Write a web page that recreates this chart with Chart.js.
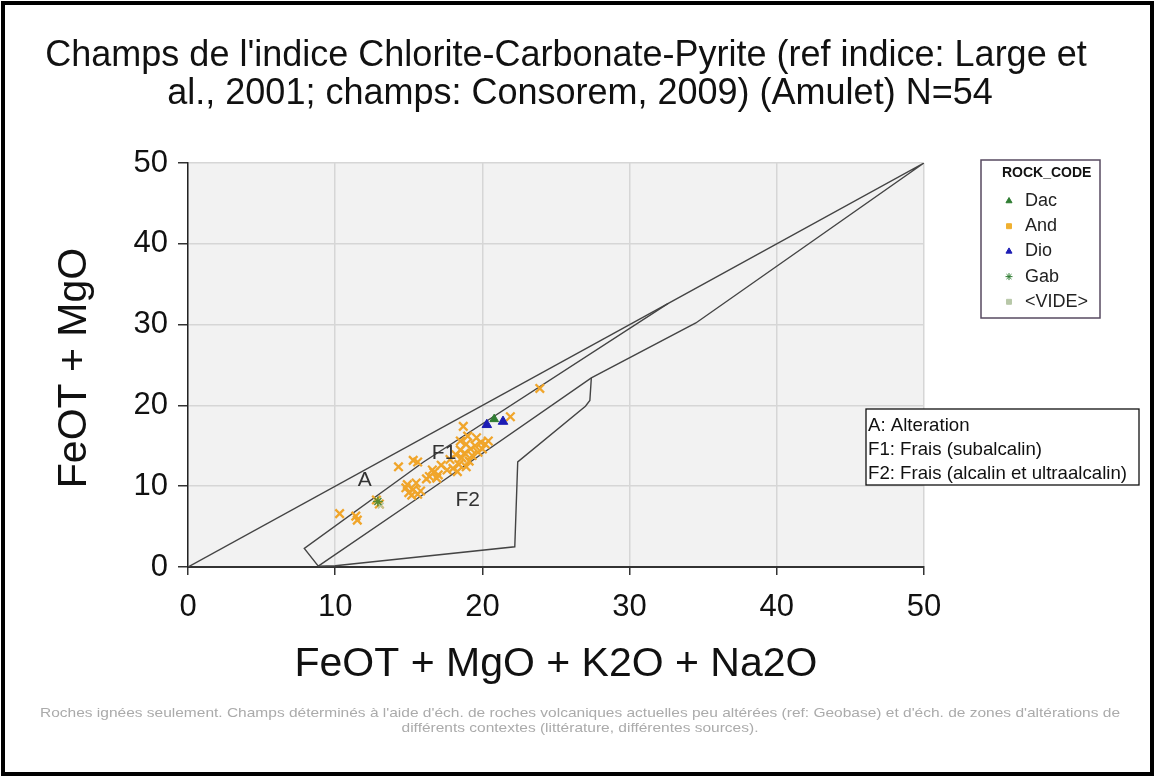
<!DOCTYPE html>
<html>
<head>
<meta charset="utf-8">
<script src="https://cdn.jsdelivr.net/npm/chart.js@4/dist/chart.umd.min.js"></script>
<style>
  html, body { margin: 0; padding: 0; background: #fff; }
  #wrap { position: relative; width: 1156px; height: 778px; }
</style>
</head>
<body>
<div id="wrap"><canvas id="graficoChamps"></canvas></div>
<script>
// Valeurs (FeOT+MgO+K2O+Na2O ; FeOT+MgO)
const andX = [10.3, 11.4, 11.5, 12.8, 13.0, 14.3, 15.3, 15.6,
              14.8, 15.0, 15.3, 15.5, 15.2, 15.8, 14.9, 15.6,
              16.4, 16.7, 16.9, 16.6, 17.2, 17.0, 16.2,
              18.7, 18.5, 18.9, 19.2, 18.8, 19.5, 18.6, 19.1, 18.4, 19.6, 19.9,
              18.2, 19.3, 18.9, 19.7, 18.5, 20.2, 20.4, 19.0, 18.0, 17.6,
              21.9, 23.9, 20.0, 17.8, 18.3];
const andY = [6.6, 6.3, 5.8, 8.3, 7.8, 12.4, 13.2, 13.0,
              9.8, 9.2, 9.6, 10.4, 8.9, 9.4, 10.2, 9.0,
              11.2, 11.7, 11.0, 12.0, 12.6, 11.4, 10.9,
              17.4, 15.6, 15.2, 14.6, 14.1, 15.0, 13.5, 13.1, 12.7, 16.0, 15.4,
              13.9, 13.8, 12.4, 14.2, 14.5, 15.2, 15.6, 16.2, 12.2, 12.0,
              18.6, 22.1, 14.6, 13.3, 11.8];
const dacX = [20.8];
const dacY = [18.3];
const dioX = [20.3, 21.4];
const dioY = [17.6, 18.0];
const gabX = [12.9];
const gabY = [8.1];
const videX = [13.1];
const videY = [7.6];

// Limites des champs (Consorem, 2009)
const champAX = [0, 32.6];
const champAY = [0, 32.6];
const champF1X = [8.85, 7.9, 16.0, 32.6, 50, 34.5, 27.4, 16.4, 8.85];
const champF1Y = [0.1, 2.3, 13.0, 32.6, 50, 30.2, 23.4, 9.5, 0.1];
const champF2X = [8.85, 10.0, 22.2, 22.4, 27.0, 27.3, 27.4];
const champF2Y = [0.1, 0.15, 2.5, 13.0, 19.9, 20.6, 23.4];

// Étiquettes des champs
const champNoms = ['A', 'F1', 'F2'];
const champNomX = [12.0, 17.4, 19.0];
const champNomY = [10.7, 14.1, 8.3];

const axeMin = 0;
const axeMax = 50;
const axePas = 10;

const titreLignes = [
    "Champs de l'indice Chlorite-Carbonate-Pyrite (ref indice: Large et",
    "al., 2001; champs: Consorem, 2009) (Amulet) N=54"
];
const notesLignes = [
    "Roches ignées seulement. Champs déterminés à l'aide d'éch. de roches volcaniques actuelles peu altérées (ref: Geobase) et d'éch. de zones d'altérations de",
    "différents contextes (littérature, différentes sources)."
];
const boiteChamps = ['A: Alteration', 'F1: Frais (subalcalin)', 'F2: Frais (alcalin et ultraalcalin)'];

const FONT = '"Liberation Sans", Arial, Helvetica, sans-serif';

function pts(xs, ys) {
    return xs.map((x, i) => ({ x: x, y: ys[i] }));
}

const legende = [
    { label: 'Dac', style: 'triangle', color: '#2f7d32' },
    { label: 'And', style: 'rect', color: '#f0b030' },
    { label: 'Dio', style: 'triangle', color: '#1c1cb4' },
    { label: 'Gab', style: 'star', color: '#2f7d32' },
    { label: '<VIDE>', style: 'rect', color: '#b8c8a8' }
];

const decor = {
    id: 'decor',
    beforeDraw(chart) {
        const { ctx, chartArea: a } = chart;
        ctx.save();
        ctx.fillStyle = '#ffffff';
        ctx.fillRect(0, 0, chart.width, chart.height);
        ctx.fillStyle = '#f2f2f2';
        ctx.fillRect(a.left, a.top, a.right - a.left, a.bottom - a.top);
        ctx.restore();
    },
    afterDraw(chart) {
        const { ctx, scales } = chart;
        const a = chart.chartArea;
        ctx.save();

        // titre
        ctx.fillStyle = '#111';
        ctx.font = '36px ' + FONT;
        ctx.textAlign = 'center';
        ctx.textBaseline = 'middle';
        ctx.fillText(titreLignes[0], 566, 56);
        ctx.fillText(titreLignes[1], 580, 94);

        // titres des axes
        ctx.font = '41px ' + FONT;
        ctx.fillText('FeOT + MgO + K2O + Na2O', (a.left + a.right) / 2, 665);
        ctx.save();
        ctx.translate(75, (a.top + a.bottom) / 2 + 3);
        ctx.rotate(-Math.PI / 2);
        ctx.fillText('FeOT + MgO', 0, 0);
        ctx.restore();

        // noms des champs
        ctx.font = '21px ' + FONT;
        ctx.fillStyle = '#333';
        champNoms.forEach((n, i) => {
            ctx.fillText(n, scales.x.getPixelForValue(champNomX[i]), scales.y.getPixelForValue(champNomY[i]));
        });

        // légende ROCK_CODE
        ctx.fillStyle = '#fff';
        ctx.fillRect(981, 160, 119, 158);
        ctx.strokeStyle = '#574a60';
        ctx.lineWidth = 1.5;
        ctx.strokeRect(981, 160, 119, 158);
        ctx.fillStyle = '#111';
        ctx.textAlign = 'left';
        ctx.font = 'bold 14px ' + FONT;
        ctx.fillText('ROCK_CODE', 1002, 173);
        ctx.font = '18px ' + FONT;
        legende.forEach((it, i) => {
            const y = 201 + i * 25.2;
            ctx.fillStyle = it.color;
            ctx.strokeStyle = it.color;
            ctx.lineWidth = 1;
            Chart.helpers.drawPoint(ctx, { pointStyle: it.style, radius: 3.5, borderWidth: 1, rotation: 0 }, 1009, y);
            ctx.fillStyle = '#222';
            ctx.fillText(it.label, 1025, y);
        });

        // boîte des champs
        ctx.fillStyle = '#fff';
        ctx.fillRect(866, 409, 273, 76);
        ctx.strokeStyle = '#111';
        ctx.lineWidth = 1.3;
        ctx.strokeRect(866, 409, 273, 76);
        ctx.fillStyle = '#111';
        ctx.font = '19px ' + FONT;
        const k = 259 / ctx.measureText(boiteChamps[2]).width;
        boiteChamps.forEach((t, i) => {
            ctx.save();
            ctx.translate(868, 426 + i * 23.8);
            ctx.scale(k, 1);
            ctx.fillText(t, 0, 0);
            ctx.restore();
        });

        // note en bas
        ctx.fillStyle = '#ababab';
        ctx.font = '13px ' + FONT;
        const kn = 1080 / ctx.measureText(notesLignes[0]).width;
        [0, 1].forEach(i => {
            ctx.save();
            ctx.translate(580, 713 + i * 15);
            ctx.scale(kn, 1);
            ctx.textAlign = 'center';
            ctx.fillText(notesLignes[i], 0, 0);
            ctx.restore();
        });

        // cadre
        ctx.strokeStyle = '#000';
        ctx.lineWidth = 4;
        ctx.strokeRect(3, 3, chart.width - 7, chart.height - 7);
        ctx.restore();
    }
};

const ligne = { showLine: true, pointRadius: 0, borderColor: '#444', borderWidth: 1.4, fill: false, tension: 0, order: 2 };

new Chart(document.getElementById('graficoChamps'), {
    type: 'scatter',
    data: {
        datasets: [
            { label: 'Dio', data: pts(dioX, dioY), pointStyle: 'triangle', pointRadius: 5.5,
              backgroundColor: '#1c1cb4', borderColor: '#1c1cb4', borderWidth: 1, order: 0 },
            { label: 'Dac', data: pts(dacX, dacY), pointStyle: 'triangle', pointRadius: 5,
              backgroundColor: '#2f7d32', borderColor: '#2f7d32', borderWidth: 1, order: 0 },
            { label: 'Gab', data: pts(gabX, gabY), pointStyle: 'star', pointRadius: 5,
              backgroundColor: '#2f7d32', borderColor: '#5a8a30', borderWidth: 1.5, order: 0 },
            { label: '<VIDE>', data: pts(videX, videY), pointStyle: 'crossRot', pointRadius: 4,
              backgroundColor: '#b8c8a8', borderColor: '#b8c8a8', borderWidth: 1.5, order: 0 },
            { label: 'And', data: pts(andX, andY), pointStyle: 'crossRot', pointRadius: 6,
              backgroundColor: '#f0a52a', borderColor: '#f0a52a', borderWidth: 2.3, order: 1 },
            Object.assign({ label: 'A', data: pts(champAX, champAY) }, ligne),
            Object.assign({ label: 'F1', data: pts(champF1X, champF1Y) }, ligne),
            Object.assign({ label: 'F2', data: pts(champF2X, champF2Y) }, ligne)
        ]
    },
    options: {
        responsive: true,
        maintainAspectRatio: false,
        animation: false,
        layout: { padding: { top: 163, right: 232, left: 0, bottom: 0 } },
        plugins: {
            legend: { display: false },
            title: { display: false },
            tooltip: { enabled: false }
        },
        scales: {
            x: {
                type: 'linear',
                min: axeMin, max: axeMax,
                afterFit(s) { s.height = 211; },
                ticks: { stepSize: axePas, color: '#111', padding: 14, font: { size: 31, family: FONT } },
                grid: { color: '#d6d6d6', lineWidth: 1.5, tickLength: 8, tickColor: '#333' },
                border: { color: '#333', width: 2 }
            },
            y: {
                type: 'linear',
                min: axeMin, max: axeMax,
                afterFit(s) { s.width = 188; },
                ticks: { stepSize: axePas, color: '#111', padding: 10, font: { size: 31, family: FONT } },
                grid: { color: '#d6d6d6', lineWidth: 1.5, tickLength: 10, tickColor: '#333' },
                border: { color: '#222', width: 1.5 }
            }
        }
    },
    plugins: [decor]
});
</script>
</body>
</html>
